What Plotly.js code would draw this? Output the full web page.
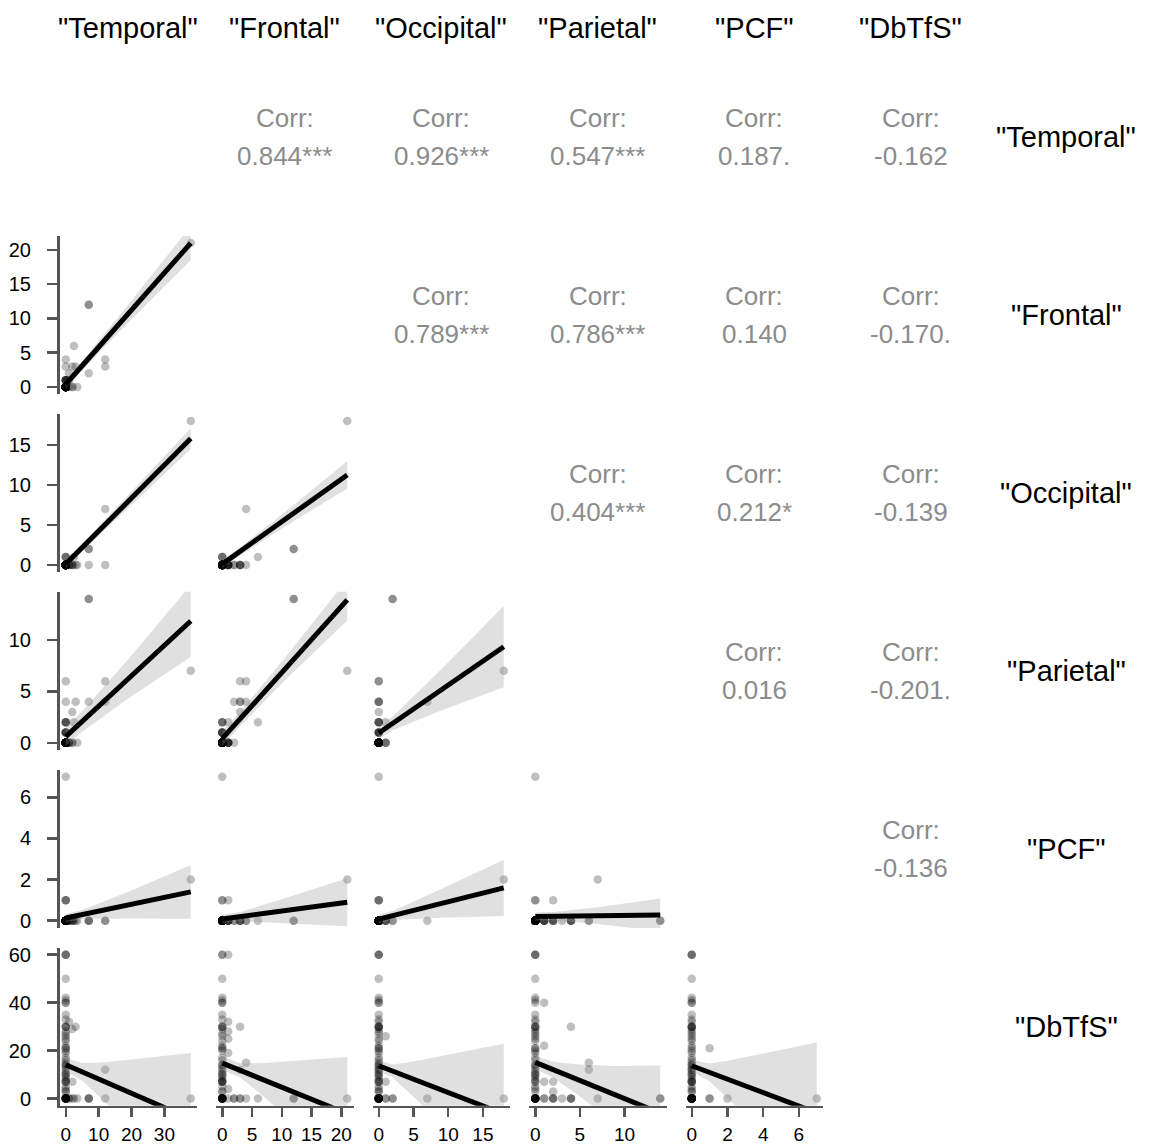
<!DOCTYPE html>
<html><head><meta charset="utf-8">
<script src="https://cdn.plot.ly/plotly-3.0.1.min.js"></script>
<style>html,body{margin:0;padding:0;background:#fff}#chart{width:1153px;height:1148px}</style>
</head><body><div id="chart"></div>
<script>
// ---- variable labels ----
const varLabels = ['"Temporal"', '"Frontal"', '"Occipital"', '"Parietal"', '"PCF"', '"DbTfS"'];

// ---- observations (one entry per subject) ----
const temporal  = [38,7,7,12,12,7,2.5,3,0,0,2,0,0,0,0,0,1,0,0,0,0,0,0,0,0,0,0,0,0,0,0,0,1,2,3.5,1,2, 0,0,0,0,0,0,0,0,0,0,0,0,0,0,0,0,0,0,0,0,0,0,0,0,0,0,0,0,0,0,0,0,0,0];
const frontal   = [21,12,12,4,3,2,6,3,4,3,3,0,0,0,1,1,1,1,1,1,1,0,0,0,0,0,0,0,0,0,0,0,2,0,0,0,0, 0,0,0,0,0,0,0,0,0,0,0,0,0,0,0,0,0,0,0,0,0,0,0,0,0,0,0,0,0,0,0,0,0,0];
const occipital = [18,2,2,7,0,0,1,0,0,0,0,0,0,0,0,0,0,0,0,0,0,1,1,1,0,0,0,0,0,0,0,0,0,0,0,0,0, 0,0,0,0,0,0,0,0,0,0,0,0,0,0,0,0,0,0,0,0,0,0,0,0,0,0,0,0,0,0,0,0,0,0];
const parietal  = [7,14,14,4,6,4,2,4,6,4,3,0,0,0,2,0,0,0,0,0,0,0,0,0,1,1,1,1,1,2,2,2,0,0,0,0,0, 0,0,0,0,0,0,0,0,0,0,0,0,0,0,0,0,0,0,0,0,0,0,0,0,0,0,0,0,0,0,0,0,0,0];
const pcf       = [2,0,0,0,0,0,0,0,0,0,0,7,1,1,1,0,0,0,0,0,0,0,0,0,0,0,0,0,0,0,0,0,0,0,0,0,0, 0,0,0,0,0,0,0,0,0,0,0,0,0,0,0,0,0,0,0,0,0,0,0,0,0,0,0,0,0,0,0,0,0,0];
const dbtfs     = [0,0,0,0,12,0,0,30,15,0,0,0,0,21,0,60,32,28,25,19,4,26,7,0,40,22,7,0,0,7,3,0,0,7,0,0,29, 60,60,50,42,41,40,35,33,30,30,30,27,24,21,20,17,16,14,14,13,12,11,10,10,9,8,5,3,0,0,0,0,0,0];

// ---- correlation labels (upper triangle) ----
const corrRows = [0,0,0,0,0, 1,1,1,1, 2,2,2, 3,3, 4];
const corrCols = [1,2,3,4,5, 2,3,4,5, 3,4,5, 4,5, 5];
const corrText = ['0.844***','0.926***','0.547***','0.187.','-0.162',
                  '0.789***','0.786***','0.140','-0.170.',
                  '0.404***','0.212*','-0.139',
                  '0.016','-0.201.',
                  '-0.136'];

// ---- fitted lm lines and 95% bands (y ~ x) ----
const fitX_FT=[0,5,19,38],  fitY_FT=[0.4,3.1,10.7,21.0],   fitHi_FT=[1.0,3.75,12.0,23.5], fitLo_FT=[-0.2,2.45,9.4,18.5];
const fitX_OT=[0,5,19,38],  fitY_OT=[0.1,2.17,7.95,15.8],  fitHi_OT=[0.6,2.67,8.75,17.1], fitLo_OT=[-0.4,1.67,7.15,14.5];
const fitX_OF=[0,3,10.5,21],fitY_OF=[0.1,1.69,5.68,11.25], fitHi_OF=[0.6,2.19,6.58,12.95],fitLo_OF=[-0.4,1.19,4.78,9.55];
const fitX_PT=[0,5,19,38],  fitY_PT=[0.6,2.08,6.22,11.85], fitHi_PT=[1.5,3.08,8.12,15.35],fitLo_PT=[-0.3,1.08,4.32,8.35];
const fitX_PF=[0,3,10.5,21],fitY_PF=[0.4,2.33,7.15,13.9],  fitHi_PF=[1.1,3.03,8.25,15.9], fitLo_PF=[-0.3,1.63,6.05,11.9];
const fitX_PO=[0,2,9,18],   fitY_PO=[0.95,1.88,5.15,9.35], fitHi_PO=[1.55,2.53,7.15,13.3],fitLo_PO=[0.35,1.23,3.15,5.4];
const fitX_CT=[0,5,19,38],  fitY_CT=[0.13,0.30,0.76,1.4],  fitHi_CT=[0.33,0.52,1.41,2.7], fitLo_CT=[-0.07,0.08,0.11,0.1];
const fitX_CF=[0,3,10.5,21],fitY_CF=[0.08,0.2,0.49,0.9],   fitHi_CF=[0.28,0.42,1.09,2.07],fitLo_CF=[-0.12,-0.02,-0.11,-0.27];
const fitX_CO=[0,2,9,18],   fitY_CO=[0.08,0.25,0.84,1.6],  fitHi_CO=[0.28,0.47,1.54,2.97],fitLo_CO=[-0.12,0.03,0.14,0.23];
const fitX_CP=[0,2,7,14],   fitY_CP=[0.21,0.22,0.245,0.28],fitHi_CP=[0.41,0.42,0.65,1.08],fitLo_CP=[0.01,0.02,-0.16,-0.52];
const fitX_DT=[0,5,10,20,38],fitY_DT=[14.1,11.1,8.15,2.2,-8.5],   fitHi_DT=[16.9,14.8,15.0,16.3,19.0], fitLo_DT=[11.3,7.5,1.3,-11.9,-36.0];
const fitX_DF=[0,3,7,12,21], fitY_DF=[14.8,11.8,7.77,2.74,-6.3],  fitHi_DF=[17.7,14.7,14.8,15.6,17.3], fitLo_DF=[11.9,8.9,0.8,-10.2,-29.9];
const fitX_DO=[0,2,5,10,18], fitY_DO=[13.7,11.47,8.13,2.55,-6.4], fitHi_DO=[15.95,14.2,15.5,18.25,22.9],fitLo_DO=[11.45,8.76,0.77,-13.2,-35.7];
const fitX_DP=[0,2,5,9,14],  fitY_DP=[15.1,12.08,7.55,1.51,-6.04],fitHi_DP=[17.9,15.4,14.2,13.6,13.8], fitLo_DP=[12.3,8.8,0.9,-10.6,-25.8];
const fitX_DC=[0,1,2,4,7],   fitY_DC=[13.7,10.9,8.1,2.5,-5.9],    fitHi_DC=[16.2,14.6,15.8,18.8,23.4], fitLo_DC=[11.2,7.2,0.4,-13.8,-35.2];

// ---- assembly tables for the library ----
const vars = [temporal, frontal, occipital, parietal, pcf, dbtfs];
const dticks = [10, 5, 5, 5, 2, 20];
const fits = {
  '1,0':[fitX_FT,fitY_FT,fitHi_FT,fitLo_FT],
  '2,0':[fitX_OT,fitY_OT,fitHi_OT,fitLo_OT], '2,1':[fitX_OF,fitY_OF,fitHi_OF,fitLo_OF],
  '3,0':[fitX_PT,fitY_PT,fitHi_PT,fitLo_PT], '3,1':[fitX_PF,fitY_PF,fitHi_PF,fitLo_PF], '3,2':[fitX_PO,fitY_PO,fitHi_PO,fitLo_PO],
  '4,0':[fitX_CT,fitY_CT,fitHi_CT,fitLo_CT], '4,1':[fitX_CF,fitY_CF,fitHi_CF,fitLo_CF], '4,2':[fitX_CO,fitY_CO,fitHi_CO,fitLo_CO], '4,3':[fitX_CP,fitY_CP,fitHi_CP,fitLo_CP],
  '5,0':[fitX_DT,fitY_DT,fitHi_DT,fitLo_DT], '5,1':[fitX_DF,fitY_DF,fitHi_DF,fitLo_DF], '5,2':[fitX_DO,fitY_DO,fitHi_DO,fitLo_DO], '5,3':[fitX_DP,fitY_DP,fitHi_DP,fitLo_DP], '5,4':[fitX_DC,fitY_DC,fitHi_DC,fitLo_DC]
};

const W = 1153, H = 1148;
const FONT = 'Liberation Sans, Arial, Helvetica, sans-serif';
const colL = c => 59.5 + 156.5 * c, colW = 137.5;
const rowT = r => 58 + 177.9 * r, rowH = 158.3;
const fx = p => p / W, fy = p => 1 - p / H;

function rng(a) {
  const mn = Math.min(...a), mx = Math.max(...a), e = (mx - mn) * 0.05;
  return [mn - e, mx + e];
}
const ranges = vars.map(rng);

const traces = [];
const layout = {
  width: W, height: H, margin: {l:0, r:0, t:0, b:0},
  paper_bgcolor: '#fff', plot_bgcolor: 'rgba(0,0,0,0)',
  showlegend: false, font: {family: FONT, color: '#000'},
  annotations: []
};

let k = 0;
for (let r = 1; r < 6; r++) {
  for (let c = 0; c < r; c++) {
    k++;
    const sx = k === 1 ? '' : String(k);
    const xa = 'x' + sx, ya = 'y' + sx;
    layout['xaxis' + sx] = {
      domain: [fx(colL(c)), fx(colL(c) + colW)], range: ranges[c], anchor: ya,
      showgrid: false, zeroline: false, fixedrange: true,
      showline: r === 5, linecolor: '#555', linewidth: 2.5,
      ticks: r === 5 ? 'outside' : '', ticklen: 9, tickwidth: 2.5, tickcolor: '#555',
      showticklabels: r === 5, tick0: 0, dtick: dticks[c], ticklabelstandoff: 1,
      tickfont: {family: FONT, size: 19, color: '#000'}
    };
    layout['yaxis' + sx] = {
      domain: [fy(rowT(r) + rowH), fy(rowT(r))], range: ranges[r], anchor: xa,
      showgrid: false, zeroline: false, fixedrange: true,
      showline: c === 0, linecolor: '#555', linewidth: 2.5,
      ticks: c === 0 ? 'outside' : '', ticklen: 10, tickwidth: 2.5, tickcolor: '#555',
      showticklabels: c === 0, tick0: 0, dtick: dticks[r], ticklabelstandoff: 12,
      tickfont: {family: FONT, size: 20, color: '#000'}
    };
    traces.push({
      type: 'scatter', mode: 'markers', x: vars[c], y: vars[r], xaxis: xa, yaxis: ya,
      marker: {size: 8.5, color: 'rgba(0,0,0,0.25)', line: {width: 0}}, hoverinfo: 'skip'
    });
    const f = fits[r + ',' + c];
    traces.push({
      type: 'scatter', mode: 'lines', xaxis: xa, yaxis: ya,
      x: f[0].concat(f[0].slice().reverse()), y: f[2].concat(f[3].slice().reverse()),
      fill: 'toself', fillcolor: 'rgba(153,153,153,0.3)', line: {width: 0}, hoverinfo: 'skip'
    });
    traces.push({
      type: 'scatter', mode: 'lines', x: f[0], y: f[1], xaxis: xa, yaxis: ya,
      line: {color: '#000', width: 5}, hoverinfo: 'skip'
    });
  }
}

// correlation text in the upper triangle
for (let i = 0; i < corrText.length; i++) {
  const cx = colL(corrCols[i]) + colW / 2, cy = rowT(corrRows[i]) + rowH / 2;
  layout.annotations.push({xref:'paper', yref:'paper', x: fx(cx), y: fy(cy - 19), text: 'Corr:',
    showarrow:false, xanchor:'center', yanchor:'middle', font:{family:FONT, size:26, color:'#8c8c8c'}});
  layout.annotations.push({xref:'paper', yref:'paper', x: fx(cx), y: fy(cy + 19), text: corrText[i],
    showarrow:false, xanchor:'center', yanchor:'middle', font:{family:FONT, size:26, color:'#8c8c8c'}});
}

// strip labels
for (let i = 0; i < 6; i++) {
  layout.annotations.push({xref:'paper', yref:'paper', x: fx(colL(i) + colW / 2), y: fy(28), text: varLabels[i],
    showarrow:false, xanchor:'center', yanchor:'middle', font:{family:FONT, size:29, color:'#000'}});
  layout.annotations.push({xref:'paper', yref:'paper', x: fx(1066), y: fy(rowT(i) + rowH / 2), text: varLabels[i],
    showarrow:false, xanchor:'center', yanchor:'middle', font:{family:FONT, size:29, color:'#000'}});
}

Plotly.newPlot('chart', traces, layout, {staticPlot: true, displayModeBar: false});
</script>
</body></html>
